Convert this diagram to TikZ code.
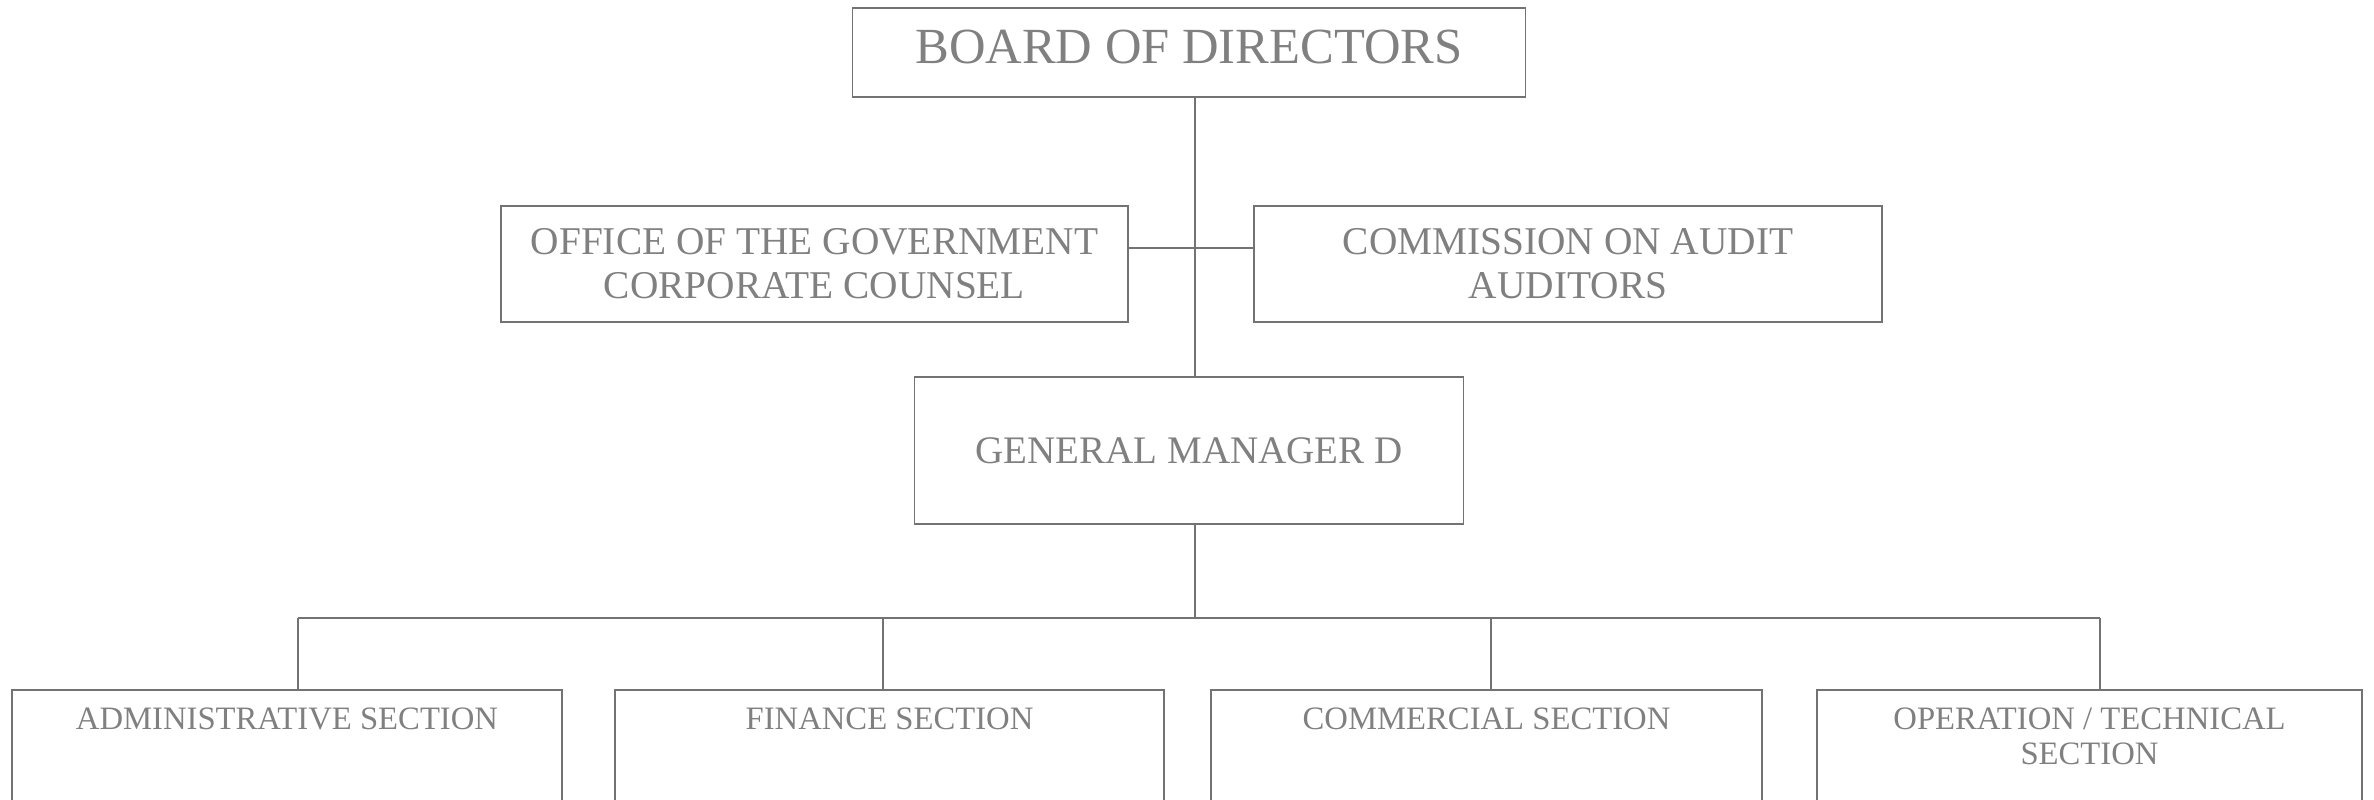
\documentclass[tikz,border=0pt]{standalone}
\usepackage{fontspec}
\setmainfont{Liberation Serif}

\tikzset{
  unitbox/.style={draw=black!55, rectangle, inner sep=0pt, align=center, text=black!50},
  unittxt/.style={inner sep=0pt, align=center, text=black!50, anchor=north}
}

\begin{document}
\begin{tikzpicture}
  [line width=.5pt, draw=black!55]
  \path[use as bounding box, clip] (0,0) rectangle (23.74,-7.99);

  \node[unitbox, minimum width=6.73cm, minimum height=.89cm, text depth=.12cm, font=\fontsize{14.4}{16}\selectfont] (board) at (11.89,-0.525) {BOARD OF DIRECTORS};
  \node[unitbox, minimum width=6.27cm, minimum height=1.16cm, font=\fontsize{11.2}{12.5}\selectfont] (ogcc) at (8.145,-2.64) {OFFICE OF THE GOVERNMENT\\CORPORATE COUNSEL};
  \node[unitbox, minimum width=6.28cm, minimum height=1.16cm, font=\fontsize{11.2}{12.5}\selectfont] (coa) at (15.68,-2.64) {COMMISSION ON AUDIT\\AUDITORS};
  \node[unitbox, minimum width=5.49cm, minimum height=1.47cm, font=\fontsize{11.1}{13}\selectfont] (gm) at (11.89,-4.505) {GENERAL MANAGER D};

  \node[unitbox, minimum width=5.50cm, minimum height=1.6cm, anchor=north] (adm) at (2.87,-6.89) {};
  \node[unitbox, minimum width=5.49cm, minimum height=1.6cm, anchor=north] (fin) at (8.895,-6.89) {};
  \node[unitbox, minimum width=5.51cm, minimum height=1.6cm, anchor=north] (com) at (14.865,-6.89) {};
  \node[unitbox, minimum width=5.45cm, minimum height=1.6cm, anchor=north] (ops) at (20.895,-6.89) {};

  \node[unittxt, font=\fontsize{9.3}{10}\selectfont] (admtxt) at (2.87,-7.07) {ADMINISTRATIVE SECTION};
  \node[unittxt, font=\fontsize{9.3}{10}\selectfont] (fintxt) at (8.895,-7.07) {FINANCE SECTION};
  \node[unittxt, font=\fontsize{9.3}{10}\selectfont] (comtxt) at (14.865,-7.07) {COMMERCIAL SECTION};
  \node[unittxt, font=\fontsize{9.3}{10}\selectfont] (opstxt) at (20.895,-7.07) {OPERATION / TECHNICAL\\SECTION};

  \coordinate (trunk) at (11.95,0);
  \coordinate (d1) at (2.98,-6.18);
  \coordinate (d2) at (8.83,-6.18);
  \coordinate (d3) at (14.91,-6.18);
  \coordinate (d4) at (21.00,-6.18);

  \draw (board.south -| trunk) -- (gm.north -| trunk);
  \draw ([yshift=.16cm]ogcc.east) -- ([yshift=.16cm]coa.west);
  \draw (gm.south -| trunk) -- (trunk |- d1);
  \draw (d1) -- (d4);
  \foreach \from/\to in {d1/adm, d2/fin, d3/com, d4/ops}
    \draw (\from) -- (\from |- \to.north);

\end{tikzpicture}
\end{document}
